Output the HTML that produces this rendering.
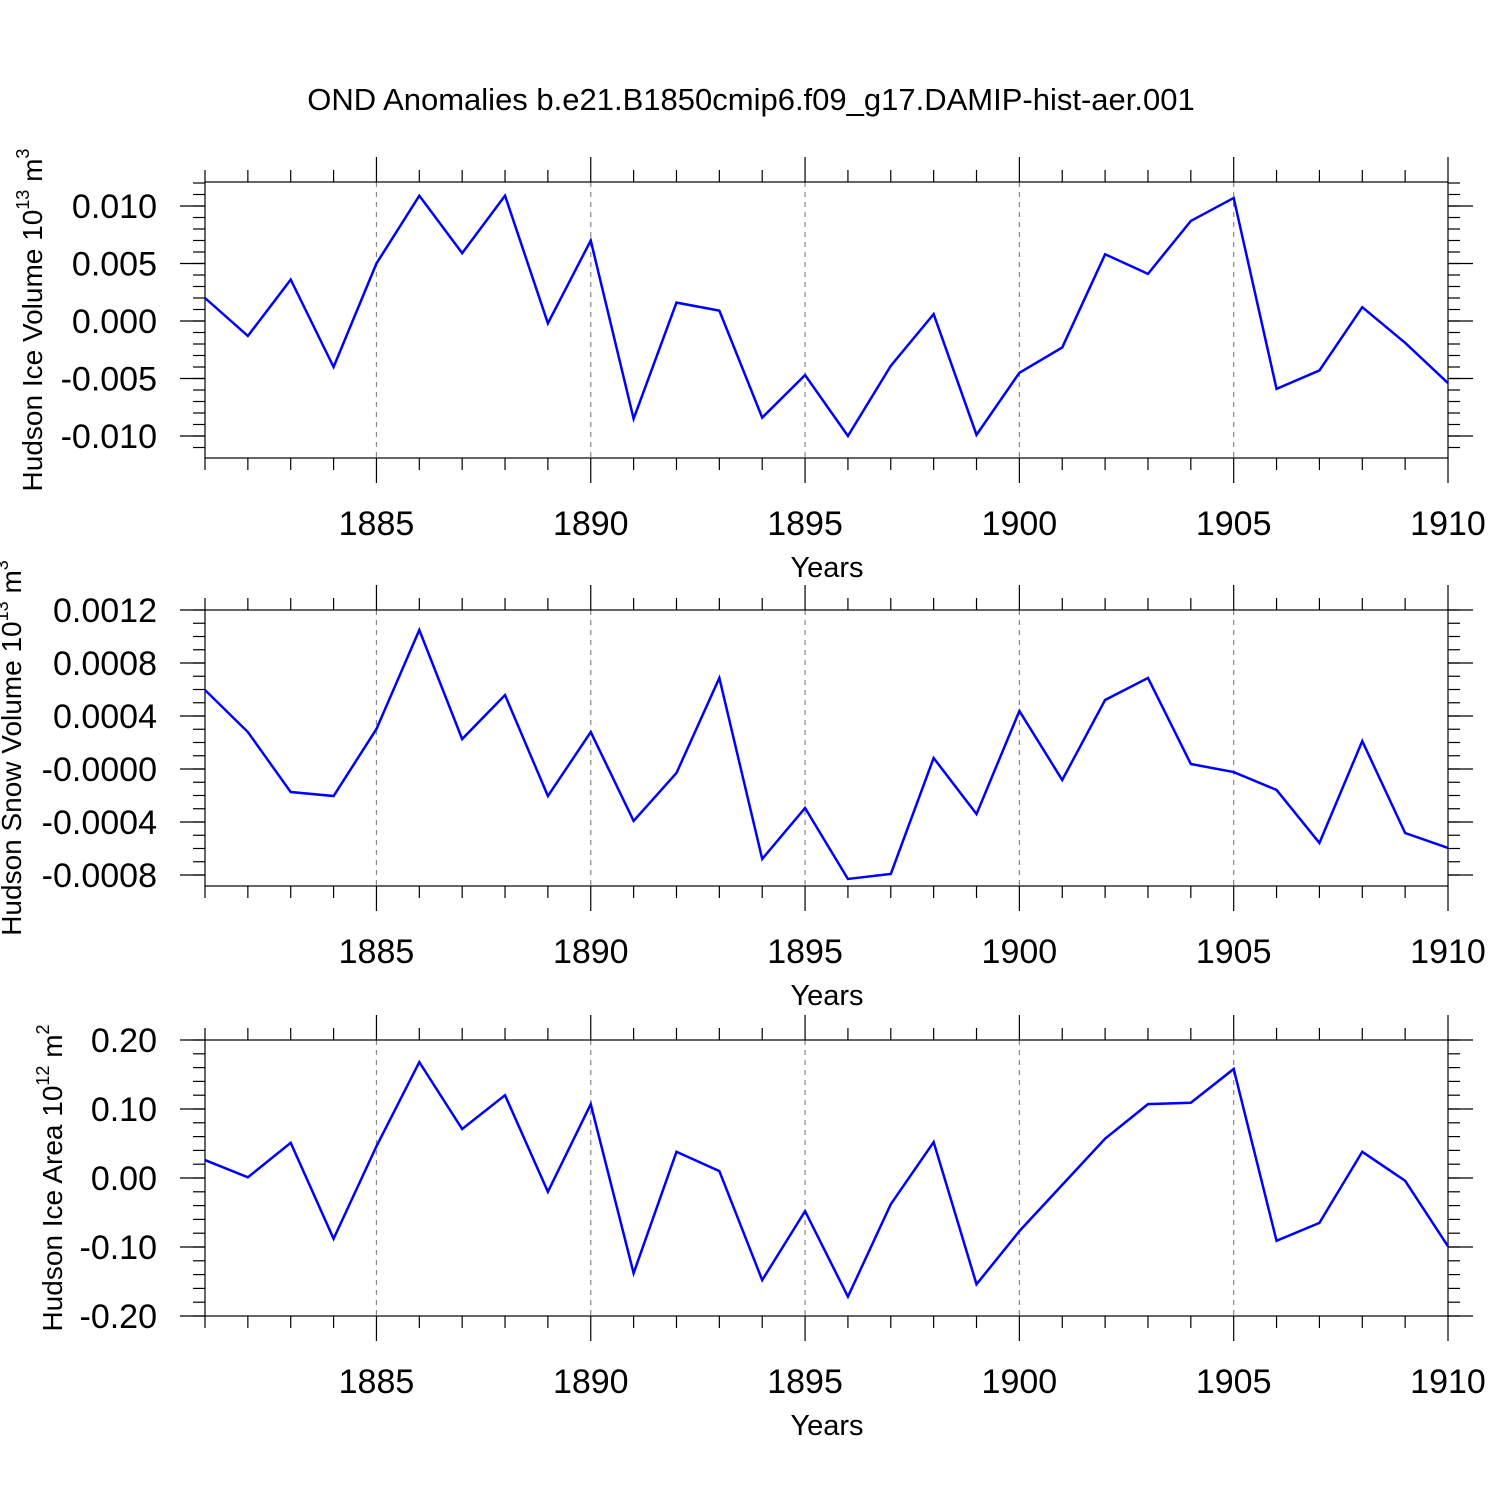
<!DOCTYPE html>
<html><head><meta charset="utf-8"><style>
html,body{margin:0;padding:0;background:#fff}
svg text{font-family:"Liberation Sans",sans-serif;fill:#000}
</style></head><body>
<svg id="c" width="1500" height="1500" xmlns="http://www.w3.org/2000/svg">
<text x="751" y="110" font-size="31" text-anchor="middle">OND Anomalies b.e21.B1850cmip6.f09_g17.DAMIP-hist-aer.001</text>
</svg>
<script>
const years=[1881,1882,1883,1884,1885,1886,1887,1888,1889,1890,1891,1892,1893,1894,1895,1896,1897,1898,1899,1900,1901,1902,1903,1904,1905,1906,1907,1908,1909,1910];
const xTicks=[1885,1890,1895,1900,1905,1910];
const iceVolume=[0.0020,-0.0013,0.0036,-0.0040,0.0050,0.0109,0.0059,0.0109,-0.0002,0.0070,-0.0085,0.0016,0.0009,-0.0084,-0.0047,-0.0100,-0.0039,0.0006,-0.0099,-0.0045,-0.0023,0.0058,0.0041,0.0087,0.0107,-0.0059,-0.0043,0.0012,-0.0019,-0.0054];
const snowVolume=[0.000596,0.000279,-0.000174,-0.000204,0.000302,0.001049,0.000226,0.000558,-0.000204,0.000279,-0.000392,-0.00003,0.000687,-0.000679,-0.000294,-0.00083,-0.000792,0.000083,-0.00034,0.000438,-0.000083,0.000521,0.000687,0.000038,-0.000023,-0.000158,-0.000558,0.000211,-0.000483,-0.000596];
const iceArea=[0.026,0.001,0.051,-0.088,0.046,0.168,0.071,0.120,-0.020,0.107,-0.138,0.038,0.010,-0.148,-0.048,-0.172,-0.038,0.052,-0.154,-0.077,-0.010,0.057,0.107,0.109,0.158,-0.091,-0.065,0.038,-0.004,-0.099];
const ticks1=[0.010,0.005,0,-0.005,-0.010];
const tickLabels1=["0.010","0.005","0.000","-0.005","-0.010"];
const ticks2=[0.0012,0.0008,0.0004,0,-0.0004,-0.0008];
const tickLabels2=["0.0012","0.0008","0.0004","-0.0000","-0.0004","-0.0008"];
const ticks3=[0.2,0.1,0,-0.1,-0.2];
const tickLabels3=["0.20","0.10","0.00","-0.10","-0.20"];

const svg=document.getElementById('c');
const NS="http://www.w3.org/2000/svg";
function mk(tag,attrs,parent){const e=document.createElementNS(NS,tag);for(const k in attrs)e.setAttribute(k,attrs[k]);(parent||svg).appendChild(e);return e;}
const X0=205,X1=1448;
const xs=y=>X0+(y-1881)*(X1-X0)/29;

function panel(o){
  const g=mk('g',{});
  
  
  const ys=v=>o.y0+(o.v0-v)*(o.y1-o.y0)/(o.v0-o.v1);
  xTicks.forEach(t=>{if(t<1910){const l=mk('line',{x1:xs(t),x2:xs(t),y1:o.top,y2:o.bot,stroke:'#888','stroke-width':1.2,'stroke-dasharray':'5,5'},g);
    }});
  const f=mk('rect',{x:X0,y:o.top,width:X1-X0,height:o.bot-o.top,fill:'none',stroke:'#000','stroke-width':1.2},g);
  
  for(let y=1881;y<=1910;y++){
    const maj=y%5===0, L=maj?25:12;
    mk('line',{x1:xs(y),x2:xs(y),y1:o.top,y2:o.top-L,stroke:'#000','stroke-width':1.2},g);
    mk('line',{x1:xs(y),x2:xs(y),y1:o.bot,y2:o.bot+L,stroke:'#000','stroke-width':1.2},g);
  }
  xTicks.forEach(t=>{const tx=mk('text',{x:xs(t),y:o.bot+77,'font-size':34,'text-anchor':'middle'},g);tx.textContent=t;
    });
  const xl=mk('text',{x:827,y:o.bot+119,'font-size':29,'text-anchor':'middle'},g);xl.textContent='Years';
  
  const step=o.minor;
  for(let v=Math.ceil(o.vMin/step)*step; v<=o.vMax+1e-12; v+=step){
    const yy=ys(v); if(yy<o.top-0.5||yy>o.bot+0.5)continue;
    mk('line',{x1:X0,x2:X0-12,y1:yy,y2:yy,stroke:'#000','stroke-width':1.2},g);
    mk('line',{x1:X1,x2:X1+12,y1:yy,y2:yy,stroke:'#000','stroke-width':1.2},g);
  }
  o.ticks.forEach((t,i)=>{const yy=ys(t);
    mk('line',{x1:X0,x2:X0-25,y1:yy,y2:yy,stroke:'#000','stroke-width':1.2},g);
    mk('line',{x1:X1,x2:X1+25,y1:yy,y2:yy,stroke:'#000','stroke-width':1.2},g);
    const tx=mk('text',{x:157,y:yy+12,'font-size':34,'text-anchor':'end'},g);tx.textContent=o.labels[i];
    });
  const yt=mk('text',{transform:`translate(${o.tx},${(o.top+o.bot)/2}) rotate(-90)`,'font-size':28,'text-anchor':'middle'},g);
  yt.innerHTML=o.title+' 10<tspan dy="-13" font-size="18">'+o.exp+'</tspan><tspan dy="13"> m</tspan><tspan dy="-13" font-size="18">'+o.uexp+'</tspan>';
  
  const p=mk('polyline',{points:o.data.map((v,i)=>xs(years[i])+','+ys(v)).join(' '),fill:'none',stroke:'#0000ff','stroke-width':2.5},g);
  
}
panel({name:'ice-volume-panel',top:182,bot:458,y0:206,y1:436,v0:0.010,v1:-0.010,vMin:-0.013,vMax:0.013,minor:0.001,ticks:ticks1,labels:tickLabels1,data:iceVolume,title:'Hudson Ice Volume',exp:'13',uexp:'3',tx:42});
panel({name:'snow-volume-panel',top:610,bot:886,y0:610,y1:875,v0:0.0012,v1:-0.0008,vMin:-0.0009,vMax:0.0012,minor:0.0001,ticks:ticks2,labels:tickLabels2,data:snowVolume,title:'Hudson Snow Volume',exp:'13',uexp:'3',tx:21});
panel({name:'ice-area-panel',top:1040,bot:1316,y0:1040,y1:1316,v0:0.2,v1:-0.2,vMin:-0.2,vMax:0.2,minor:0.02,ticks:ticks3,labels:tickLabels3,data:iceArea,title:'Hudson Ice Area',exp:'12',uexp:'2',tx:62});
</script>
</body></html>
